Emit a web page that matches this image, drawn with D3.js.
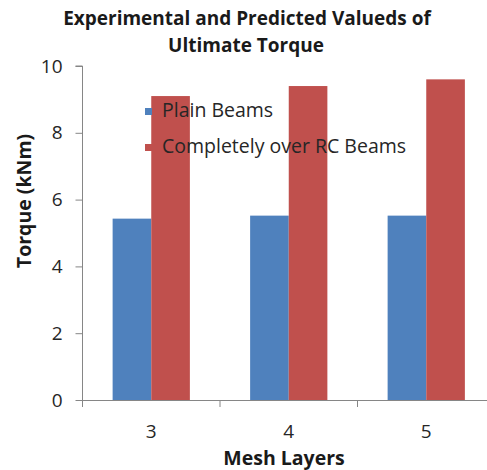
<!DOCTYPE html>
<html><head><meta charset="utf-8">
<script src="https://cdn.jsdelivr.net/npm/d3@7"></script>
<style>body{margin:0;background:#fff}svg{display:block}</style>
</head><body>
<script>
const categories = ["3", "4", "5"];
const seriesNames = ["Plain Beams", "Completely over RC Beams"];
const plainBeams = [5.43, 5.52, 5.52];
const rcBeams = [9.1, 9.4, 9.6];
const yTicks = [0, 2, 4, 6, 8, 10];
const colors = ["#4F81BD", "#C0504D"];

(function () {
const W = 487, H = 470;
const svg = d3.select("body").append("svg").attr("width", W).attr("height", H);
const font = "'Open Sans', 'Liberation Sans', sans-serif";

const mL = 82.5, mR = 495, mT = 66, mB = 400;
const x = d3.scaleBand().domain(categories).range([mL, mR]);
const y = d3.scaleLinear().domain([0, 10]).range([mB, mT]);
const inner = d3.scaleBand().domain([0, 1]).range([0, x.bandwidth()]).paddingOuter(0.78).paddingInner(0);

const data = categories.map((c, i) => ({c, vals: [plainBeams[i], rcBeams[i]]}));

const g = svg.append("g");
data.forEach(d => {
  d.vals.forEach((v, s) => {
    g.append("rect")
      .attr("x", x(d.c) + inner(s))
      .attr("y", y(v))
      .attr("width", inner.bandwidth())
      .attr("height", y(0) - y(v))
      .attr("fill", colors[s]);
  });
});

const yAxis = svg.append("g").attr("transform", `translate(${mL},0)`)
  .call(d3.axisLeft(y).tickValues(yTicks).tickSize(7).tickPadding(13).tickFormat(d3.format("d")));
yAxis.select(".domain").attr("stroke", "#868686").attr("d", `M-7,${mT}H0V${mB}`);
yAxis.selectAll(".tick line").attr("stroke", "#868686");
yAxis.selectAll(".tick text").attr("font-family", font).attr("font-size", 19).attr("fill", "#262626");

const xAxis = svg.append("g").attr("transform", `translate(0,${mB})`)
  .call(d3.axisBottom(x).tickSize(0).tickPadding(25));
xAxis.select(".domain").attr("stroke", "#868686");
xAxis.selectAll(".tick text").attr("font-family", font).attr("font-size", 19).attr("fill", "#262626");
const bounds = categories.map(c => x(c)).concat([mR]);
xAxis.selectAll(".bt").data(bounds).enter().append("line")
  .attr("x1", d => d).attr("x2", d => d).attr("y1", 0).attr("y2", 7).attr("stroke", "#868686");

svg.append("text").attr("x", 247).attr("y", 25).attr("text-anchor", "middle")
  .attr("font-family", font).attr("font-weight", "bold").attr("font-size", 19).attr("fill", "#1a1a1a")
  .text("Experimental and Predicted Valueds of");
svg.append("text").attr("x", 246).attr("y", 52).attr("text-anchor", "middle")
  .attr("font-family", font).attr("font-weight", "bold").attr("font-size", 19).attr("fill", "#1a1a1a")
  .text("Ultimate Torque");

svg.append("text").attr("x", 284).attr("y", 465).attr("text-anchor", "middle")
  .attr("font-family", font).attr("font-weight", "bold").attr("font-size", 19.5).attr("fill", "#1a1a1a")
  .text("Mesh Layers");
svg.append("text").attr("transform", "translate(31,201) rotate(-90)").attr("text-anchor", "middle")
  .attr("font-family", font).attr("font-weight", "bold").attr("font-size", 19.5).attr("fill", "#1a1a1a")
  .text("Torque (kNm)");

const lg = svg.append("g");
seriesNames.forEach((n, i) => {
  const ly = 117 + i * 36;
  lg.append("rect").attr("x", 145).attr("y", ly - 9).attr("width", 7).attr("height", 7).attr("fill", colors[i]);
  lg.append("text").attr("x", 162).attr("y", ly).attr("font-family", font).attr("font-size", 19.5)
    .attr("fill", "#262626").text(n);
});
})();
</script>
</body></html>
